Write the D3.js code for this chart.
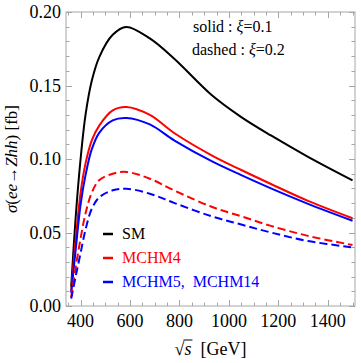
<!DOCTYPE html>
<html lang="en">
  <head>
    <meta charset="UTF-8">
    <title>ee -> Zhh</title>
    <style>
body {margin: 0; background: #fff;}
text {font-family: "Liberation Serif", "DejaVu Serif", serif;}
</style>
  </head>
  <body>
<div id="my_dataviz"></div>
<script src="https://d3js.org/d3.v7.min.js"></script>
<script>

// sqrt(s) in GeV
var sqrtS = [362, 380, 400, 420, 445, 476, 530, 585, 680, 780, 930, 1050, 1170, 1320, 1500];

// cross sections in fb
var sm       = [0.013, 0.060, 0.100, 0.130, 0.153, 0.1695, 0.1845, 0.1898, 0.182, 0.168, 0.1435, 0.1285, 0.116, 0.1015, 0.0855];
var mchm4_1  = [0.010, 0.045, 0.077, 0.097, 0.1125, 0.1229, 0.1331, 0.1354, 0.130, 0.1175, 0.1025, 0.0925, 0.083, 0.0715, 0.0597];
var mchm5_1  = [0.009, 0.038, 0.069, 0.089, 0.1065, 0.118, 0.1263, 0.1279, 0.1235, 0.1125, 0.0985, 0.089, 0.080, 0.0695, 0.058];
var mchm4_2  = [0.006, 0.026, 0.046, 0.063, 0.077, 0.0857, 0.090, 0.0912, 0.0866, 0.0785, 0.0675, 0.061, 0.0545, 0.0477, 0.0415];
var mchm5_2  = [0.005, 0.020, 0.036, 0.052, 0.066, 0.074, 0.0787, 0.0798, 0.0764, 0.070, 0.061, 0.0554, 0.050, 0.0442, 0.0399];

var xTicks = [400, 600, 800, 1000, 1200, 1400];
var yTicks = [0.00, 0.05, 0.10, 0.15, 0.20];

var legendNames = ["SM", "MCHM4", "MCHM5,\u2002MCHM14"];
var legendColors = ["#000000", "#ff0000", "#0000ff"];

// series table
var series = [
  {values: sm,      color: "#000000", dash: null},
  {values: mchm4_1, color: "#ff0000", dash: null},
  {values: mchm5_1, color: "#0000ff", dash: null},
  {values: mchm4_2, color: "#ff0000", dash: "8,4"},
  {values: mchm5_2, color: "#0000ff", dash: "8,4"}
];

var W = 361, H = 363;
var margin = {top: 12, right: 6, bottom: 57, left: 66},
    width = W - margin.left - margin.right,
    height = H - margin.top - margin.bottom;

var svg = d3.select("#my_dataviz")
  .append("svg")
    .attr("width", W)
    .attr("height", H)
  .append("g")
    .attr("transform", "translate(" + margin.left + "," + margin.top + ")");

var x = d3.scaleLinear().domain([341, 1510]).range([0, width]);
var y = d3.scaleLinear().domain([0, 0.20]).range([height, 0]);

var frameColor = "#a6a6a6";

// frame
svg.append("rect")
  .attr("width", width).attr("height", height)
  .attr("fill", "none").attr("stroke", frameColor).attr("stroke-width", 1);

// ticks on all four sides, pointing inward
var xMinor = d3.range(350, 1501, 50);
var yMinor = d3.range(0, 0.2001, 0.01);

function tickLen(v, majors) {
  return majors.some(function(m) { return Math.abs(m - v) < 1e-6; }) ? 6 : 3.5;
}

var tg = svg.append("g").attr("stroke", frameColor).attr("stroke-width", 1);
xMinor.forEach(function(v) {
  var L = tickLen(v, xTicks), px = Math.round(x(v)) + 0.5;
  tg.append("line").attr("x1", px).attr("x2", px).attr("y1", height).attr("y2", height - L);
  tg.append("line").attr("x1", px).attr("x2", px).attr("y1", 0).attr("y2", L);
});
yMinor.forEach(function(v) {
  var L = tickLen(v, yTicks), py = Math.round(y(v)) + 0.5;
  tg.append("line").attr("x1", 0).attr("x2", L).attr("y1", py).attr("y2", py);
  tg.append("line").attr("x1", width).attr("x2", width - L).attr("y1", py).attr("y2", py);
});

// tick labels
svg.append("g").selectAll("text").data(xTicks).enter().append("text")
  .attr("x", function(d) { return x(d); })
  .attr("y", height + 21)
  .attr("text-anchor", "middle")
  .attr("font-size", 18)
  .text(function(d) { return d; });

svg.append("g").selectAll("text").data(yTicks).enter().append("text")
  .attr("x", -5)
  .attr("y", function(d) { return y(d); })
  .attr("dy", "0.35em")
  .attr("text-anchor", "end")
  .attr("font-size", 18)
  .text(function(d) { return d3.format(".2f")(d); });

// curves
var line = d3.line()
  .x(function(d, i) { return x(sqrtS[i]); })
  .y(function(d) { return y(d); })
  .curve(d3.curveCatmullRom.alpha(0.5));

svg.selectAll(".curve").data(series).enter().append("path")
  .attr("class", "curve")
  .attr("d", function(s) { return line(s.values); })
  .attr("fill", "none")
  .attr("stroke", function(s) { return s.color; })
  .attr("stroke-width", 2)
  .attr("stroke-dasharray", function(s) { return s.dash; });

// legend
var lg = svg.append("g").attr("transform", "translate(37,222)");
legendNames.forEach(function(name, i) {
  lg.append("line")
    .attr("x1", 0).attr("x2", 10)
    .attr("y1", i * 24).attr("y2", i * 24)
    .attr("stroke", legendColors[i]).attr("stroke-width", 2.5);
  lg.append("text")
    .attr("x", 19).attr("y", i * 24 + 5)
    .attr("font-size", 16)
    .attr("fill", legendColors[i])
    .text(name);
});

// annotation
var ann = svg.append("g").attr("font-size", 16);
var a1 = ann.append("text").attr("x", 127).attr("y", 20);
a1.append("tspan").text("solid : ");
a1.append("tspan").attr("font-style", "italic").text("\u03be");
a1.append("tspan").text("=0.1");
var a2 = ann.append("text").attr("x", 126).attr("y", 43);
a2.append("tspan").text("dashed : ");
a2.append("tspan").attr("font-style", "italic").text("\u03be");
a2.append("tspan").text("=0.2");

// axis titles
var yl = svg.append("text")
  .attr("transform", "translate(-49," + (height / 2) + ") rotate(-90)")
  .attr("text-anchor", "middle")
  .attr("font-size", 17);
yl.append("tspan").attr("font-style", "italic").text("\u03c3");
yl.append("tspan").text("(");
yl.append("tspan").attr("font-style", "italic").text("ee");
yl.append("tspan").text("\u2192");
yl.append("tspan").attr("font-style", "italic").text("Zhh");
yl.append("tspan").text(") [fb]");

var xl = svg.append("text")
  .attr("x", width / 2)
  .attr("y", height + 49)
  .attr("text-anchor", "middle")
  .attr("font-size", 18);
xl.append("tspan").text("\u221a");
xl.append("tspan").attr("font-style", "italic").text("s");
xl.append("tspan").text("\u2002[GeV]");

// radical bar over s
var xn = xl.node();
var r0 = xn.getEndPositionOfChar(0), r1 = xn.getEndPositionOfChar(1);
svg.append("line")
  .attr("x1", r0.x - 1).attr("x2", r1.x + 1)
  .attr("y1", height + 49 - 15).attr("y2", height + 49 - 15)
  .attr("stroke", "#000").attr("stroke-width", 1);

</script>
  </body>
</html>
